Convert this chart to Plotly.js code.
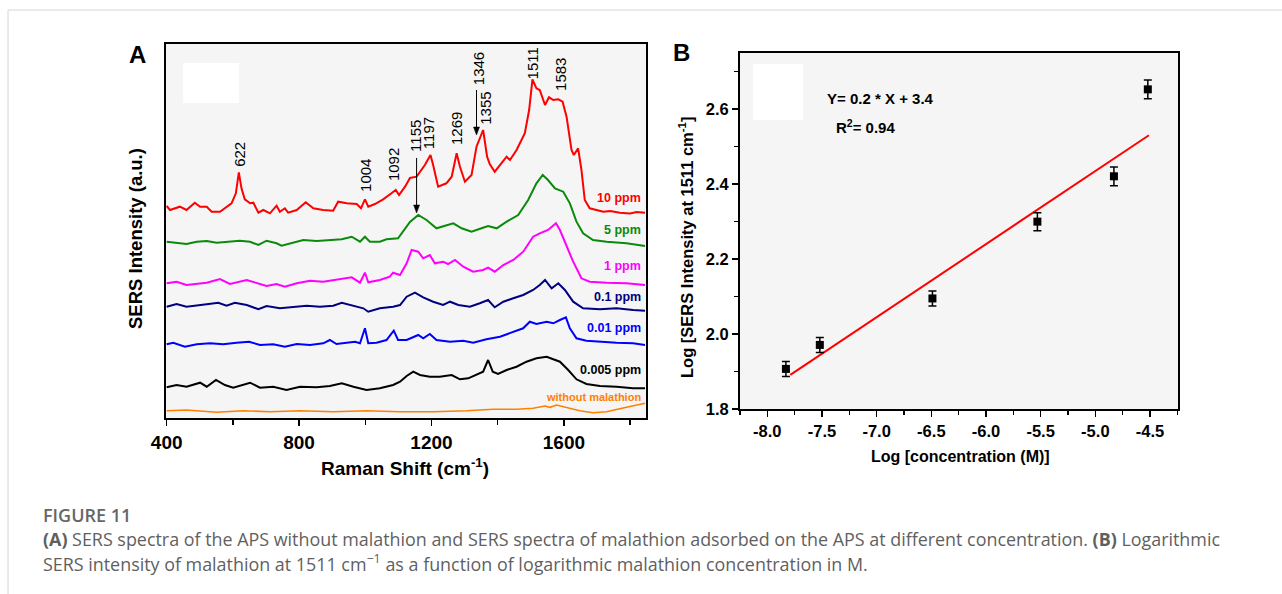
<!DOCTYPE html>
<html>
<head>
<meta charset="utf-8">
<script src="https://cdn.plot.ly/plotly-3.0.1.min.js"></script>
<style>html,body{margin:0;padding:0;background:#fff;}#chart{width:1282px;height:594px;}</style>
</head>
<body>
<div id="chart"></div>
<script>
// ---------- Panel A: SERS spectra (Raman shift in cm-1, stacked intensity in a.u.) ----------
const shift10ppm = [400,410,440,460,485,501,521,536,561,581,596,609,618,626,636,652,662,677,692,712,732,742,757,767,793,820,843,873,903,918,944,974,987,999,1009,1029,1054,1079,1092,1102,1120,1135,1155,1180,1197,1205,1220,1245,1261,1276,1286,1301,1321,1336,1344,1356,1368,1376,1391,1407,1427,1437,1457,1482,1495,1505,1517,1527,1543,1555,1568,1583,1596,1608,1623,1630,1643,1653,1663,1678,1719,1740,1769,1800,1820,1845];
const int10ppm = [212,208,211.3,208,215.3,211.3,211.3,206.3,206.3,211.3,214.7,224.7,245.7,229.7,218.7,214.7,215.3,205.3,208,204.7,212.3,206.3,209.7,205.3,208,215.7,209.7,208,207.3,216.3,214.7,214,209.7,218.7,211.3,214,218.7,224.7,228,223,231.3,240,241.3,253,263,253,231.3,234.7,241.3,264.7,251.3,236.3,243,271.3,278,288,261.3,254,246.3,253,261.3,258,268,284.7,308,338.7,329.7,328,313,320.7,318,318.7,316.3,301.3,268,263,269.7,248,218,209.7,206.3,207,205.3,204.5,206,205.3];

const shift5ppm = [400,430,460,491,521,551,581,621,652,677,702,732,747,782,813,853,893,929,959,984,999,1014,1044,1064,1099,1120,1135,1160,1185,1215,1245,1266,1291,1321,1351,1371,1397,1427,1462,1492,1517,1536,1552,1573,1598,1618,1638,1658,1688,1729,1789,1845];
const int5ppm = [176.3,175.3,174,176.3,177,175.3,176.3,177.3,176.3,173,177.3,174.7,172.3,175.7,178,177,178,178.7,181.3,176.3,181.3,176.3,176.3,178.7,179.7,189.7,196,203,198,189.7,193,194.7,189.7,186.3,189.7,192,189.7,196.3,203,218,234.7,243,238,229.7,226.3,214.7,196.3,184.7,178,176.3,174.7,172];

const shift1ppm = [400,430,460,491,521,561,591,642,672,702,732,757,793,833,873,913,959,984,999,1009,1044,1074,1084,1105,1125,1140,1160,1175,1195,1210,1235,1250,1271,1296,1326,1356,1371,1391,1417,1447,1477,1507,1527,1552,1576,1588,1608,1628,1653,1678,1729,1789,1845];
const int1ppm = [134.7,136.3,133,134,135.3,139,134,138,135.3,132,134,131.3,134.7,137.3,136.3,138,140.7,135.3,145.3,135.7,138,141.3,145.3,143,154.7,168,166.3,159.7,163,154.7,156.3,154,158,151.3,146.3,148,150.3,146.3,153,158,166.3,181.3,184.7,188,194.7,188,171.3,156.3,139.7,136.3,135.3,134.7,133];

const shift01ppm = [400,430,460,491,521,556,581,606,642,677,702,742,782,823,863,903,929,964,994,1009,1044,1084,1105,1125,1150,1175,1205,1235,1256,1281,1316,1346,1371,1391,1417,1447,1477,1507,1527,1543,1563,1583,1603,1628,1658,1709,1759,1809,1845];
const int01ppm = [111.3,114,111.3,112.3,113.7,115.3,112.3,115.3,113,108.7,112,109.7,111.3,112.3,111.3,112.3,115.3,112.3,109.7,106.3,109.7,111.3,113,121.3,125.3,120.7,116.3,113,116.3,113,111.3,114.7,118,110.7,116.3,119.7,123,128,133,138,129.7,134.7,128,116.3,109.7,108.7,109.7,108,107.3];

const shift001ppm = [400,420,455,491,531,571,611,649,682,722,757,793,833,873,893,913,944,969,984,999,1009,1034,1064,1086,1099,1125,1160,1175,1195,1215,1256,1296,1326,1366,1407,1447,1477,1497,1517,1548,1568,1588,1606,1618,1638,1668,1709,1759,1809,1845];
const int001ppm = [73.7,75.3,71.3,73.7,74.7,73.7,75.3,76.3,73,73.7,71.3,74,73,74.7,78,74,75.3,76.3,74.7,89.7,74.7,75.3,78,87.3,78,78,83,79.7,84,78,76.3,77.3,75.3,78.7,81.3,86.3,89.7,96.3,94,96.3,94.7,98,100.7,89.7,79.7,77.3,76.3,75.3,74.7,73];

const shift0005ppm = [400,430,460,501,521,549,576,601,652,682,722,762,803,853,893,929,964,1004,1044,1084,1105,1125,1145,1165,1195,1225,1261,1286,1311,1336,1356,1371,1385,1401,1427,1457,1487,1517,1548,1568,1588,1613,1638,1668,1709,1759,1809,1845];
const int0005ppm = [30.7,33,31.3,35.3,31.3,38,33,30.3,35.3,30.3,31.3,28,31.3,30.7,32,34.7,31.3,28,29.7,33,36.3,42,46.3,43,41.3,41.3,43,38.7,39.7,43,46.3,58,46.3,44,48,51.3,56.3,59.7,61.3,58.7,56.3,48,38.7,34,32,31.3,29.7,29.7];

const shiftBlank = [400,460,551,631,712,803,903,1004,1105,1205,1306,1386,1457,1507,1543,1558,1578,1608,1648,1688,1729,1789,1845];
const intBlank = [7.3,8,5.7,7.3,6.3,7.3,6.3,7.3,6.3,6.3,7.3,8.7,8.7,9.7,12,10.7,13,10.7,7.3,5.3,6.3,10.7,14.7];

const seriesNames = ['10 ppm','5 ppm','1 ppm','0.1 ppm','0.01 ppm','0.005 ppm','without malathion'];
const seriesLabelLevel = [220, 188, 152, 121, 90, 48, 21];

const peakLabels = ['622','1004','1092','1155','1197','1269','1346','1355','1511','1583'];
const peakLabelShift = [618, 999, 1084, 1150, 1190, 1274, 1341, 1361, 1505, 1588];
const peakLabelLevel = [264, 243, 253, 282, 285, 290, 349, 310, 355, 344];

// arrows marking 1155 (on 5 ppm) and 1346 (on 10 ppm): shift, tail level, tip level
const arrowShift = [1155, 1336];
const arrowTail = [260, 328];
const arrowTip = [205, 283];

const axisATicks = [400, 800, 1200, 1600];

// ---------- Panel B: calibration ----------
const logConc = [-7.83, -7.52, -6.49, -5.53, -4.83, -4.52];
const logIntensity = [1.907, 1.971, 2.095, 2.300, 2.421, 2.653];
const logIntensityErr = [0.020, 0.020, 0.020, 0.024, 0.025, 0.025];
const fitSlope = 0.195;
const fitIntercept = 3.41;
const fitXRange = [-7.79, -4.51];
const axisBXTicks = [-8.0, -7.5, -7.0, -6.5, -6.0, -5.5, -5.0, -4.5];
const axisBXTickText = ['-8.0','-7.5','-7.0','-6.5','-6.0','-5.5','-5.0','-4.5'];
const axisBYTicks = [1.8, 2.0, 2.2, 2.4, 2.6];
const axisBYTickText = ['1.8','2.0','2.2','2.4','2.6'];

// ---------- build ----------
const W = 1282, H = 594;
const px = x => x / W;
const py = y => (H - y) / H;

const specX = [shift10ppm, shift5ppm, shift1ppm, shift01ppm, shift001ppm, shift0005ppm, shiftBlank];
const specY = [int10ppm, int5ppm, int1ppm, int01ppm, int001ppm, int0005ppm, intBlank];
const specColors = ['#ff0000', '#0a8a0a', '#ff00ff', '#000080', '#0000ff', '#000000', '#ff8000'];

const traces = [];
for (let i = 0; i < specX.length; i++) {
  traces.push({
    type: 'scatter', mode: 'lines', x: specX[i], y: specY[i],
    line: {color: specColors[i], width: i === 6 ? 1.6 : 2},
    xaxis: 'x', yaxis: 'y', hoverinfo: 'skip', showlegend: false
  });
}
traces.push({
  type: 'scatter', mode: 'lines',
  x: fitXRange, y: fitXRange.map(v => fitSlope * v + fitIntercept),
  line: {color: '#ff0000', width: 2}, xaxis: 'x2', yaxis: 'y2', showlegend: false
});
traces.push({
  type: 'scatter', mode: 'markers', x: logConc, y: logIntensity,
  error_y: {type: 'data', array: logIntensityErr, visible: true, color: '#000', thickness: 1.5, width: 4},
  marker: {symbol: 'square', size: 8, color: '#000'},
  xaxis: 'x2', yaxis: 'y2', showlegend: false
});

const bold = (size, color) => ({family: 'Liberation Sans, Arial, sans-serif', size: size, color: color || '#000', weight: 'bold'});

const annotations = [];
for (let i = 0; i < seriesNames.length; i++) {
  annotations.push({
    xref: 'x', yref: 'y', x: 1838, y: seriesLabelLevel[i], text: seriesNames[i],
    showarrow: false, xanchor: 'right', yanchor: 'middle',
    font: bold(i === 6 ? 11 : 12.5, specColors[i])
  });
}
for (let i = 0; i < peakLabels.length; i++) {
  annotations.push({
    xref: 'x', yref: 'y', x: peakLabelShift[i], y: peakLabelLevel[i], text: peakLabels[i],
    textangle: -90, showarrow: false, xanchor: 'center', yanchor: 'middle',
    font: {family: 'Liberation Sans, Arial, sans-serif', size: 15, color: '#000'}
  });
}

annotations.push({xref: 'paper', yref: 'paper', x: px(405), y: py(467), text: 'Raman Shift (cm<sup>-1</sup>)',
  showarrow: false, xanchor: 'center', yanchor: 'middle', font: bold(19)});
annotations.push({xref: 'paper', yref: 'paper', x: px(135), y: py(239), text: 'SERS Intensity (a.u.)',
  textangle: -90, showarrow: false, xanchor: 'center', yanchor: 'middle', font: bold(18.5)});
annotations.push({xref: 'paper', yref: 'paper', x: px(960), y: py(456), text: 'Log [concentration (M)]',
  showarrow: false, xanchor: 'center', yanchor: 'middle', font: bold(16)});
annotations.push({xref: 'paper', yref: 'paper', x: px(686), y: py(247), text: 'Log [SERS Intensity at 1511 cm<sup>-1</sup>]',
  textangle: -90, showarrow: false, xanchor: 'center', yanchor: 'middle', font: bold(16.5)});
annotations.push({xref: 'paper', yref: 'paper', x: px(137), y: py(55), text: 'A',
  showarrow: false, xanchor: 'center', yanchor: 'middle', font: bold(24)});
annotations.push({xref: 'paper', yref: 'paper', x: px(681), y: py(53), text: 'B',
  showarrow: false, xanchor: 'center', yanchor: 'middle', font: bold(24)});
annotations.push({xref: 'paper', yref: 'paper', x: px(825), y: py(99), text: 'Y= 0.2 * X + 3.4',
  showarrow: false, xanchor: 'left', yanchor: 'middle', font: bold(15)});
annotations.push({xref: 'paper', yref: 'paper', x: px(834), y: py(126), text: 'R<sup>2</sup>= 0.94',
  showarrow: false, xanchor: 'left', yanchor: 'middle', font: bold(15)});

const capFont = {family: 'Open Sans, Lato, sans-serif', size: 17.9, color: '#5f5f5f'};
annotations.push({xref: 'paper', yref: 'paper', x: px(41), y: py(515), text: 'FIGURE 11',
  showarrow: false, xanchor: 'left', yanchor: 'middle',
  font: {family: 'Open Sans, Lato, sans-serif', size: 18, color: '#666666', weight: 600}});
annotations.push({xref: 'paper', yref: 'paper', x: px(41), y: py(539),
  text: '<b>(A)</b> SERS spectra of the APS without malathion and SERS spectra of malathion adsorbed on the APS at different concentration. <b>(B)</b> Logarithmic',
  showarrow: false, xanchor: 'left', yanchor: 'middle', font: capFont});
annotations.push({xref: 'paper', yref: 'paper', x: px(41), y: py(563),
  text: 'SERS intensity of malathion at 1511 cm<sup>\u22121</sup> as a function of logarithmic malathion concentration in M.',
  showarrow: false, xanchor: 'left', yanchor: 'middle', font: capFont});

const shapes = [
  {type: 'line', xref: 'paper', yref: 'paper', x0: px(8), x1: 1, y0: py(10), y1: py(10), line: {color: '#d6d6d6', width: 1}},
  {type: 'line', xref: 'paper', yref: 'paper', x0: px(8), x1: px(8), y0: py(10), y1: 0, line: {color: '#d6d6d6', width: 1}},
  {type: 'rect', xref: 'paper', yref: 'paper', x0: px(183), x1: px(239), y0: py(103), y1: py(63), fillcolor: '#ffffff', line: {width: 0}, layer: 'above'},
  {type: 'rect', xref: 'paper', yref: 'paper', x0: px(753), x1: px(803), y0: py(120), y1: py(64), fillcolor: '#ffffff', line: {width: 0}, layer: 'above'}
];
// arrows as shapes (shaft + head)
for (let i = 0; i < arrowShift.length; i++) {
  const s = arrowShift[i], tail = arrowTail[i], tip = arrowTip[i];
  shapes.push({type: 'line', xref: 'x', yref: 'y', x0: s, x1: s, y0: tail, y1: tip + 6, line: {color: '#000', width: 1}});
  shapes.push({type: 'path', xref: 'x', yref: 'y',
    path: `M ${s - 9},${tip + 8} L ${s + 9},${tip + 8} L ${s},${tip} Z`,
    fillcolor: '#000', line: {color: '#000', width: 0.5}});
}

const tickFontA = bold(19);
const tickFontB = bold(16.5);

const layout = {
  width: W, height: H,
  margin: {l: 0, r: 0, t: 0, b: 0, pad: 0},
  paper_bgcolor: '#ffffff', plot_bgcolor: '#f5f5f5',
  showlegend: false,
  xaxis: {
    domain: [px(166), px(646)], range: [398, 1848], anchor: 'y',
    tickmode: 'array', tickvals: axisATicks, ticktext: axisATicks.map(String),
    ticks: 'outside', ticklen: 6, tickwidth: 1.5, tickcolor: '#000',
    minor: {dtick: 200, tick0: 400, ticks: 'outside', ticklen: 5, tickwidth: 1.5, tickcolor: '#000', showgrid: false},
    showline: true, mirror: true, linecolor: '#000', linewidth: 2,
    showgrid: false, zeroline: false, tickfont: tickFontA, automargin: false
  },
  yaxis: {
    domain: [py(418), py(44)], range: [0, 374], anchor: 'x',
    showticklabels: false, ticks: '',
    showline: true, mirror: true, linecolor: '#000', linewidth: 2,
    showgrid: false, zeroline: false, automargin: false
  },
  xaxis2: {
    domain: [px(740), px(1178)], range: [-8.25, -4.244], anchor: 'y2',
    tickmode: 'array', tickvals: axisBXTicks, ticktext: axisBXTickText,
    ticks: 'outside', ticklen: 6, tickwidth: 1.5, tickcolor: '#000',
    minor: {dtick: 0.25, tick0: -8, ticks: 'outside', ticklen: 4, tickwidth: 1.5, tickcolor: '#000', showgrid: false},
    showline: true, mirror: true, linecolor: '#000', linewidth: 2,
    showgrid: false, zeroline: false, tickfont: tickFontB, automargin: false
  },
  yaxis2: {
    domain: [py(409), py(53)], range: [1.8, 2.75], anchor: 'x2',
    tickmode: 'array', tickvals: axisBYTicks, ticktext: axisBYTickText,
    ticks: 'outside', ticklen: 6, tickwidth: 1.5, tickcolor: '#000',
    minor: {dtick: 0.1, tick0: 1.8, ticks: 'outside', ticklen: 4, tickwidth: 1.5, tickcolor: '#000', showgrid: false},
    showline: true, mirror: true, linecolor: '#000', linewidth: 2,
    showgrid: false, zeroline: false, tickfont: tickFontB, automargin: false
  },
  annotations: annotations,
  shapes: shapes
};

Plotly.newPlot('chart', traces, layout, {staticPlot: true, displayModeBar: false});
</script>
</body>
</html>
